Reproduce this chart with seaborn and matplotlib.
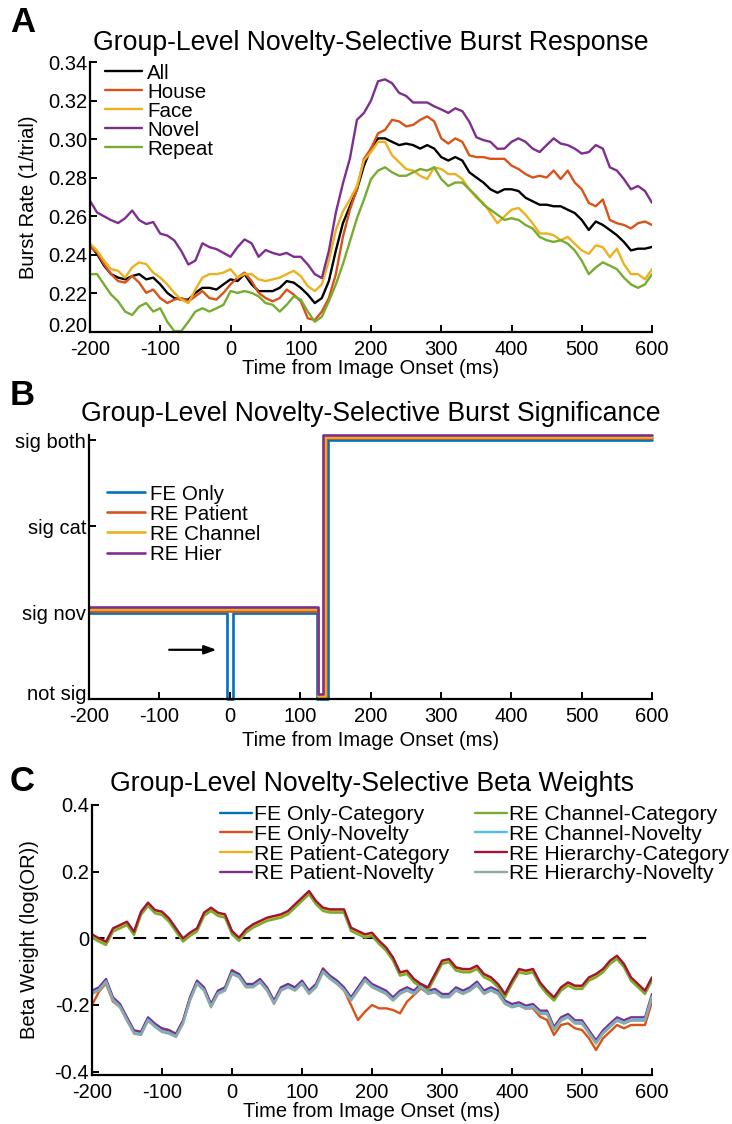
import numpy as np
import pandas as pd
import matplotlib
matplotlib.use("Agg")
import matplotlib.pyplot as plt
import matplotlib.transforms as mtransforms
import seaborn as sns

# ---------------- data ----------------
T = list(range(-200, 601, 10))

# Panel A: burst rate (1/trial)
ALL = [0.245, 0.2405, 0.2344, 0.230, 0.2282, 0.2273, 0.229, 0.230, 0.2273, 0.2282,
       0.2247, 0.2203, 0.2176, 0.2168, 0.2168, 0.2203, 0.2229, 0.2229, 0.222, 0.2247,
       0.2273, 0.2264, 0.230, 0.2247, 0.2212, 0.2212, 0.2212, 0.2229, 0.2264, 0.2256,
       0.2229, 0.2194, 0.215, 0.2176, 0.2264, 0.2423, 0.2564, 0.2652, 0.274, 0.2863,
       0.2951, 0.3004, 0.3004, 0.2986, 0.2969, 0.2977, 0.2969, 0.2951, 0.2969, 0.2951,
       0.2907, 0.2889, 0.2907, 0.2889, 0.2828, 0.2801, 0.2775, 0.274, 0.2722, 0.274,
       0.274, 0.2731, 0.2696, 0.2678, 0.266, 0.266, 0.2652, 0.2652, 0.2634, 0.2617,
       0.2581, 0.2529, 0.2573, 0.2555, 0.2529, 0.2502, 0.2467, 0.2423, 0.2432, 0.2432, 0.2441]
HOUSE = [0.244, 0.2414, 0.2352, 0.230, 0.2264, 0.2256, 0.229, 0.2256, 0.2203, 0.222,
         0.2176, 0.215, 0.2168, 0.2176, 0.2159, 0.2185, 0.2212, 0.2176, 0.2168, 0.2203,
         0.2247, 0.2282, 0.2308, 0.2264, 0.2203, 0.2176, 0.2159, 0.2176, 0.222, 0.2194,
         0.2159, 0.2071, 0.2062, 0.2106, 0.2176, 0.230, 0.2493, 0.2634, 0.274, 0.2898,
         0.2951, 0.303, 0.3048, 0.310, 0.3092, 0.3066, 0.3074, 0.310, 0.3118, 0.3092,
         0.3004, 0.2977, 0.3004, 0.2986, 0.2916, 0.2907, 0.2907, 0.2898, 0.2898, 0.2898,
         0.2863, 0.2845, 0.2819, 0.2801, 0.281, 0.2801, 0.2837, 0.2793, 0.2837, 0.2775,
         0.274, 0.2669, 0.2652, 0.2687, 0.2581, 0.2564, 0.2555, 0.2537, 0.2564, 0.2573, 0.2555]
FACE = [0.2458, 0.2423, 0.237, 0.2326, 0.2317, 0.2282, 0.2335, 0.2361, 0.2352, 0.2308,
        0.2282, 0.2247, 0.2203, 0.2168, 0.215, 0.222, 0.2282, 0.230, 0.230, 0.2308,
        0.2326, 0.2282, 0.230, 0.230, 0.2273, 0.2264, 0.2273, 0.2282, 0.230, 0.2317,
        0.229, 0.2238, 0.2212, 0.2247, 0.237, 0.2529, 0.2625, 0.2687, 0.2757, 0.2889,
        0.2933, 0.2986, 0.2986, 0.2916, 0.2881, 0.2845, 0.2837, 0.281, 0.2793, 0.2854,
        0.2845, 0.2819, 0.2819, 0.2793, 0.274, 0.2696, 0.2669, 0.2617, 0.2564, 0.2599,
        0.2634, 0.2643, 0.2608, 0.2564, 0.2511, 0.2511, 0.2502, 0.2476, 0.2493, 0.2458,
        0.2423, 0.2405, 0.2449, 0.244, 0.2388, 0.2432, 0.2352, 0.230, 0.230, 0.2273, 0.2326]
NOVEL = [0.268, 0.262, 0.260, 0.258, 0.2565, 0.259, 0.263, 0.258, 0.256, 0.257,
         0.251, 0.250, 0.2475, 0.242, 0.235, 0.237, 0.246, 0.244, 0.243, 0.241,
         0.239, 0.244, 0.248, 0.246, 0.239, 0.2425, 0.241, 0.240, 0.241, 0.239,
         0.239, 0.235, 0.230, 0.228, 0.242, 0.262, 0.277, 0.290, 0.310, 0.3136,
         0.320, 0.330, 0.331, 0.329, 0.324, 0.3224, 0.319, 0.319, 0.319, 0.317,
         0.3154, 0.3136, 0.316, 0.3145, 0.309, 0.301, 0.2995, 0.2986, 0.295, 0.2951,
         0.2986, 0.3004, 0.2986, 0.2951, 0.2933, 0.2969, 0.3004, 0.2977, 0.2969, 0.2951,
         0.2925, 0.2933, 0.2969, 0.2951, 0.2854, 0.2837, 0.2793, 0.274, 0.2757, 0.2731, 0.267]
REPEAT = [0.230, 0.230, 0.2247, 0.2194, 0.2159, 0.2106, 0.2088, 0.2132, 0.215, 0.2106,
          0.2123, 0.2053, 0.2005, 0.2005, 0.2053, 0.2106, 0.2123, 0.2106, 0.2123, 0.2141,
          0.2212, 0.2203, 0.2212, 0.2203, 0.2185, 0.215, 0.2141, 0.2106, 0.2141, 0.2185,
          0.2168, 0.2106, 0.2053, 0.2079, 0.2159, 0.2247, 0.2352, 0.2470, 0.259, 0.2687,
          0.2793, 0.2837, 0.2854, 0.2828, 0.281, 0.281, 0.2828, 0.2845, 0.2837, 0.2854,
          0.2793, 0.2757, 0.2775, 0.2775, 0.274, 0.2705, 0.2661, 0.2634, 0.2608, 0.2581,
          0.259, 0.2581, 0.2555, 0.2537, 0.2493, 0.2476, 0.2467, 0.2476, 0.2458, 0.2423,
          0.237, 0.230, 0.2335, 0.2361, 0.2344, 0.2326, 0.2282, 0.2247, 0.2229, 0.2247, 0.230]
A_NAMES = ["All", "House", "Face", "Novel", "Repeat"]

# Panel B: significance code (0 not sig, 1 sig nov, 2 sig cat, 3 sig both) at change points
B_NAMES = ["FE Only", "RE Patient", "RE Channel", "RE Hier"]
FE_T = [-200, -4, 4, 124, 140, 600]
FE_V = [1, 0, 1, 0, 3, 3]
PAT_T = [-200, 125, 137, 600]
PAT_V = [1, 0, 3, 3]
CHA_T = [-200, 125, 136, 600]
CHA_V = [1, 0, 3, 3]
HIER_T = [-200, 126, 133, 600]
HIER_V = [1, 0, 3, 3]
SIG_LABELS = ["not sig", "sig nov", "sig cat", "sig both"]

# Panel C: beta weights log(OR)
CAT_HIER = [0.012, 0.0, -0.01, 0.03, 0.04, 0.05, 0.02, 0.08, 0.107, 0.085,
            0.08, 0.06, 0.03, 0.0, 0.017, 0.03, 0.077, 0.092, 0.077, 0.072,
            0.022, 0.002, 0.027, 0.042, 0.052, 0.062, 0.067, 0.072, 0.082, 0.102,
            0.122, 0.142, 0.112, 0.092, 0.087, 0.087, 0.087, 0.032, 0.022, 0.012,
            0.017, -0.007, -0.027, -0.057, -0.102, -0.097, -0.122, -0.137, -0.147, -0.107,
            -0.067, -0.062, -0.087, -0.092, -0.092, -0.082, -0.107, -0.117, -0.137, -0.167,
            -0.127, -0.092, -0.097, -0.092, -0.132, -0.157, -0.177, -0.147, -0.132, -0.142,
            -0.142, -0.117, -0.107, -0.092, -0.067, -0.052, -0.077, -0.117, -0.137, -0.157, -0.117]
NOV_HIER = [-0.167, -0.157, -0.132, -0.187, -0.207, -0.247, -0.286, -0.29, -0.247, -0.266,
            -0.281, -0.286, -0.296, -0.256, -0.187, -0.137, -0.157, -0.207, -0.167, -0.157,
            -0.107, -0.117, -0.147, -0.147, -0.132, -0.157, -0.197, -0.157, -0.147, -0.157,
            -0.137, -0.167, -0.147, -0.102, -0.122, -0.137, -0.157, -0.187, -0.157, -0.127,
            -0.147, -0.157, -0.167, -0.187, -0.167, -0.157, -0.167, -0.147, -0.167, -0.162,
            -0.177, -0.177, -0.157, -0.167, -0.157, -0.14, -0.167, -0.157, -0.167, -0.197,
            -0.207, -0.202, -0.212, -0.207, -0.227, -0.227, -0.276, -0.247, -0.237, -0.256,
            -0.256, -0.286, -0.316, -0.286, -0.266, -0.247, -0.256, -0.247, -0.247, -0.247, -0.177]
NOV_FE = [-0.20, -0.16, -0.135, -0.19, -0.205, -0.245, -0.28, -0.285, -0.245, -0.26,
          -0.27, -0.275, -0.29, -0.25, -0.18, -0.13, -0.15, -0.20, -0.16, -0.15,
          -0.095, -0.11, -0.14, -0.14, -0.125, -0.15, -0.19, -0.15, -0.14, -0.15,
          -0.13, -0.16, -0.14, -0.09, -0.115, -0.13, -0.155, -0.20, -0.245, -0.22,
          -0.20, -0.21, -0.21, -0.215, -0.225, -0.19, -0.17, -0.15, -0.165, -0.16,
          -0.175, -0.175, -0.155, -0.165, -0.155, -0.14, -0.165, -0.155, -0.165, -0.195,
          -0.205, -0.20, -0.21, -0.21, -0.235, -0.245, -0.29, -0.26, -0.255, -0.27,
          -0.275, -0.30, -0.335, -0.30, -0.28, -0.26, -0.27, -0.26, -0.26, -0.26, -0.19]
# per-model shift relative to the hierarchy curves
CAT_SHIFT = {"FE Only": -0.004, "RE Patient": -0.006, "RE Channel": -0.010, "RE Hierarchy": 0.0}
NOV_SHIFT = {"RE Patient": 0.010, "RE Channel": 0.003, "RE Hierarchy": 0.0}
C_NAMES = ["FE Only-Category", "FE Only-Novelty", "RE Patient-Category", "RE Patient-Novelty",
           "RE Channel-Category", "RE Channel-Novelty", "RE Hierarchy-Category", "RE Hierarchy-Novelty"]

XTICKS = [-200, -100, 0, 100, 200, 300, 400, 500, 600]

# ---------------- style ----------------
sns.set_theme(style="ticks")
plt.rcParams["font.family"] = ["Liberation Sans", "DejaVu Sans"]
plt.rcParams["axes.unicode_minus"] = False
plt.rcParams["xtick.direction"] = "in"
plt.rcParams["ytick.direction"] = "in"
for k in ("text.color", "axes.labelcolor", "xtick.color", "ytick.color", "axes.edgecolor"):
    plt.rcParams[k] = "black"

FS_TICK = 14.5
FS_LAB = 14.5
FS_TITLE = 19.2
FS_LEG = 14.8

W, H = 732, 1124
fig = plt.figure(figsize=(W / 100, H / 100), dpi=100)

def ax_at(l, t, r, b):
    return fig.add_axes([l / W, 1 - b / H, (r - l) / W, (b - t) / H])

axA = ax_at(90, 62, 652, 332)
axB = ax_at(89, 435, 652, 699)
axC = ax_at(92, 805, 652, 1075)

def style(ax, lift_px):
    sns.despine(ax=ax)
    for s in ("left", "bottom"):
        ax.spines[s].set_linewidth(1.6)
        ax.spines[s].set_color("black")
    ax.tick_params(direction="in", length=5, width=1.4, labelsize=FS_TICK, colors="black")
    ax.tick_params(axis="x", pad=6)
    ax.tick_params(axis="y", pad=2)
    ax.set_xlim(-200, 600)
    ax.set_xticks(XTICKS)
    ax.set_xticklabels([str(v) for v in XTICKS])
    ax.set_xlabel("Time from Image Onset (ms)", fontsize=FS_LAB, labelpad=0)
    # the lowest y label sits a little above the x axis, as in the reference
    lab = ax.get_yticklabels()[0]
    lab.set_transform(lab.get_transform() +
                      mtransforms.ScaledTranslation(0, lift_px / 100, fig.dpi_scale_trans))

# ---------------- Panel A ----------------
colA = {"All": "black", "House": "#D95319", "Face": "#EDB120", "Novel": "#7E2F8E", "Repeat": "#77AC30"}
dfA = pd.DataFrame({"t": T * 5,
                    "rate": ALL + HOUSE + FACE + NOVEL + REPEAT,
                    "cond": sum([[n] * len(T) for n in A_NAMES], [])})
sns.lineplot(data=dfA, x="t", y="rate", hue="cond", hue_order=A_NAMES, palette=colA,
             estimator=None, lw=1.7, ax=axA)
axA.set_ylim(0.2, 0.34)
yt = [0.20, 0.22, 0.24, 0.26, 0.28, 0.30, 0.32, 0.34]
axA.set_yticks(yt)
axA.set_yticklabels([f"{v:.2f}" for v in yt])
style(axA, 7)
axA.set_ylabel("Burst Rate (1/trial)", fontsize=FS_LAB, labelpad=7)
axA.set_title("Group-Level Novelty-Selective Burst Response", fontsize=FS_TITLE, pad=9)
axA.legend(loc="upper left", bbox_to_anchor=(0.027, 0.994), frameon=False, fontsize=FS_LEG,
           handlelength=1.8, handletextpad=0.25, labelspacing=0.0, borderaxespad=0.0,
           borderpad=0.0)

# ---------------- Panel B ----------------
colB = {"FE Only": "#0072BD", "RE Patient": "#D95319", "RE Channel": "#EDB120", "RE Hier": "#7E2F8E"}
SIG_OFFSET = {"FE Only": 0.0, "RE Patient": 0.02, "RE Channel": 0.04, "RE Hier": 0.06}
for name, tt, vv in zip(B_NAMES, [FE_T, PAT_T, CHA_T, HIER_T], [FE_V, PAT_V, CHA_V, HIER_V]):
    sns.lineplot(x=tt, y=[v + SIG_OFFSET[name] for v in vv], color=colB[name], lw=1.9,
                 drawstyle="steps-post", estimator=None, sort=False, ax=axB, label=name,
                 clip_on=False)
axB.set_ylim(0, 3.058)
axB.set_yticks([0, 1, 2, 3])
axB.set_yticklabels(SIG_LABELS)
style(axB, 6)
axB.set_xlabel("Time from Image Onset (ms)", fontsize=FS_LAB, labelpad=3)
axB.set_ylabel("")
axB.set_title("Group-Level Novelty-Selective Burst Significance", fontsize=FS_TITLE, pad=10)
axB.annotate("", xy=(-15, 0.57), xytext=(-90, 0.57),
             arrowprops=dict(arrowstyle="-|>,head_length=0.6,head_width=0.22", color="black", lw=1.6))
axB.legend(loc="upper left", bbox_to_anchor=(0.032, 0.812), frameon=False, fontsize=FS_LEG,
           handlelength=1.85, handletextpad=0.25, labelspacing=0.05, borderaxespad=0.0,
           borderpad=0.0)

# ---------------- Panel C ----------------
colC = {"FE Only-Category": "#0072BD", "FE Only-Novelty": "#D95319",
        "RE Patient-Category": "#EDB120", "RE Patient-Novelty": "#7E2F8E",
        "RE Channel-Category": "#77AC30", "RE Channel-Novelty": "#4DBEEE",
        "RE Hierarchy-Category": "#A2142F", "RE Hierarchy-Novelty": "#8FA8A0"}
seriesC = {
    "FE Only-Category": [v + CAT_SHIFT["FE Only"] for v in CAT_HIER],
    "FE Only-Novelty": NOV_FE,
    "RE Patient-Category": [v + CAT_SHIFT["RE Patient"] for v in CAT_HIER],
    "RE Patient-Novelty": [v + NOV_SHIFT["RE Patient"] for v in NOV_HIER],
    "RE Channel-Category": [v + CAT_SHIFT["RE Channel"] for v in CAT_HIER],
    "RE Channel-Novelty": [v + NOV_SHIFT["RE Channel"] for v in NOV_HIER],
    "RE Hierarchy-Category": CAT_HIER,
    "RE Hierarchy-Novelty": NOV_HIER,
}
dfC = pd.DataFrame({"t": T * len(C_NAMES),
                    "beta": sum([seriesC[n] for n in C_NAMES], []),
                    "model": sum([[n] * len(T) for n in C_NAMES], [])})
sns.lineplot(data=dfC, x="t", y="beta", hue="model", hue_order=C_NAMES, palette=colC,
             estimator=None, lw=1.7, ax=axC)
axC.axhline(0, color="black", lw=1.5, ls=(0, (6, 4)), zorder=0.5)
axC.set_ylim(-0.41, 0.4)
axC.set_yticks([-0.4, -0.2, 0, 0.2, 0.4])
axC.set_yticklabels(["-0.4", "-0.2", "0", "0.2", "0.4"])
style(axC, 0)
axC.set_ylabel("Beta Weight (log(OR))", fontsize=FS_LAB, labelpad=11)
axC.set_title("Group-Level Novelty-Selective Beta Weights", fontsize=FS_TITLE, pad=10)
axC.legend(loc="upper left", bbox_to_anchor=(0.2286, 0.999), ncol=2, frameon=False, fontsize=15.3,
           handlelength=1.5, handletextpad=0.08, labelspacing=0.03, columnspacing=1.25,
           borderaxespad=0.0, borderpad=0.0)

# panel letters
for letter, ypx in (("A", 6), ("B", 379), ("C", 765)):
    fig.text(10 / W, 1 - ypx / H, letter, fontsize=25, fontweight="bold", va="top", ha="left")

fig.savefig("out.png", dpi=100)
